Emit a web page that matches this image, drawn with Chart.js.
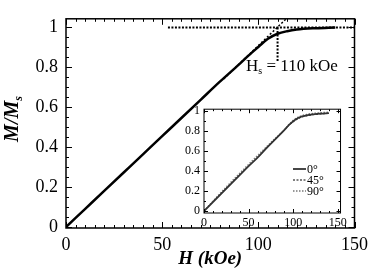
<!DOCTYPE html>
<html>
<head>
<meta charset="utf-8">
<script src="https://cdn.jsdelivr.net/npm/chart.js@4"></script>
<style>
  body { margin: 0; background: #fff; }
  #wrap { position: relative; width: 374px; height: 276px; }
  #mainChart { position: absolute; left: 0; top: 0; }
  #insetChart { position: absolute; left: 175px; top: 98px; }
</style>
</head>
<body>
<div id="wrap">
  <canvas id="mainChart" width="374" height="276"></canvas>
  <canvas id="insetChart" width="175" height="135"></canvas>
</div>
<script>
// main panel data (H in kOe, M/Ms)
const fieldH = [0, 10, 20, 30, 40, 50, 60, 70, 80, 90, 95, 100, 105, 110, 115, 120, 130, 140];
const magM   = [0, 0.091, 0.182, 0.273, 0.364, 0.455, 0.546, 0.637, 0.728, 0.815, 0.86, 0.902, 0.943, 0.968, 0.981, 0.989, 0.996, 1.0];

// linear extrapolation and saturation guide lines
const extrapH = [82, 114.5];
const extrapM = [0.742, 1.043];
const satH = [53, 150];
const satM = [1, 1];
const hsH = [110, 110];
const hsM = [1.0, 0.825];

const xTicks = [0, 50, 100, 150];
const yTicks = [0, 0.2, 0.4, 0.6, 0.8, 1];

// inset data: three field angles
const insetAngles = ["0°", "45°", "90°"];
const insetH = [0, 10, 20, 30, 40, 50, 60, 70, 80, 90, 95, 100, 105, 110, 115, 120, 130, 140];
const insetM0  = [0, 0.09, 0.18, 0.27, 0.36, 0.45, 0.535, 0.63, 0.72, 0.81, 0.86, 0.9, 0.93, 0.948, 0.958, 0.966, 0.975, 0.98];
const insetM45 = [0, 0.092, 0.185, 0.275, 0.362, 0.448, 0.535, 0.625, 0.72, 0.81, 0.855, 0.893, 0.922, 0.942, 0.953, 0.962, 0.972, 0.978];
const insetM90 = [0, 0.1, 0.195, 0.288, 0.378, 0.468, 0.556, 0.643, 0.73, 0.815, 0.865, 0.908, 0.938, 0.957, 0.968, 0.976, 0.985, 0.99];

const serif = "'Liberation Serif', 'DejaVu Serif', serif";

function pts(xs, ys) {
  return xs.map((x, i) => ({ x: x, y: ys[i] }));
}

// frame + inward ticks on all four sides
function frameTicks(xMinor, yMinor, major, minor, lw) {
  return {
    id: "frameTicks",
    afterDraw(chart) {
      const ctx = chart.ctx;
      const a = chart.chartArea;
      const xs = chart.scales.x, ys = chart.scales.y;
      ctx.save();
      ctx.strokeStyle = "#000";
      ctx.lineWidth = lw;
      ctx.strokeRect(a.left, a.top, a.right - a.left, a.bottom - a.top);
      ctx.lineWidth = 1;
      ctx.beginPath();
      for (let v = 0; v <= xs.max + 1e-9; v += xMinor) {
        const px = Math.round(xs.getPixelForValue(v)) + 0.5;
        const isMaj = xTicks.some(t => Math.abs(t - v) < 1e-6);
        const len = isMaj ? major : minor;
        ctx.moveTo(px, a.bottom); ctx.lineTo(px, a.bottom - len);
        ctx.moveTo(px, a.top); ctx.lineTo(px, a.top + len);
      }
      for (let v = 0; v <= ys.max + 1e-9; v += yMinor) {
        const py = Math.round(ys.getPixelForValue(v)) + 0.5;
        const isMaj = yTicks.some(t => Math.abs(t - v) < 1e-6);
        const len = isMaj ? major : minor;
        ctx.moveTo(a.left, py); ctx.lineTo(a.left + len, py);
        ctx.moveTo(a.right, py); ctx.lineTo(a.right - len, py);
      }
      ctx.stroke();
      ctx.restore();
    }
  };
}

// y-axis title and Hs label for the main panel
const mainText = {
  id: "mainText",
  afterDraw(chart) {
    const ctx = chart.ctx;
    ctx.save();
    ctx.fillStyle = "#000";
    ctx.translate(13, 119);
    ctx.rotate(-Math.PI / 2);
    ctx.textBaseline = "middle";
    ctx.font = "italic bold 20px " + serif;
    const w1 = ctx.measureText("M/M").width;
    ctx.font = "italic bold 12px " + serif;
    const w2 = ctx.measureText("s").width;
    let x0 = -(w1 + w2) / 2;
    ctx.font = "italic bold 20px " + serif;
    ctx.textAlign = "left";
    ctx.fillText("M/M", x0, 0);
    ctx.font = "italic bold 12px " + serif;
    ctx.fillText("s", x0 + w1, 6);
    ctx.restore();

    ctx.save();
    ctx.fillStyle = "#000";
    ctx.textBaseline = "alphabetic";
    ctx.textAlign = "left";
    ctx.font = "17px " + serif;
    ctx.fillText("H", 246, 71);
    const hw = ctx.measureText("H").width;
    ctx.font = "10px " + serif;
    ctx.fillText("s", 246 + hw, 74);
    const sw = ctx.measureText("s").width;
    ctx.font = "17px " + serif;
    ctx.fillText(" = 110 kOe", 246 + hw + sw, 71);
    ctx.restore();
  }
};

const mainChart = new Chart(document.getElementById("mainChart").getContext("2d"), {
  type: "line",
  data: {
    datasets: [
      {
        data: pts(fieldH, magM),
        borderColor: "#000",
        borderWidth: 2.5,
        pointRadius: 0,
        cubicInterpolationMode: "monotone",
      },
      {
        data: pts(extrapH, extrapM),
        borderColor: "#000",
        borderWidth: 1.5,
        borderDash: [2, 2],
        pointRadius: 0,
      },
      {
        data: pts(satH, satM),
        borderColor: "#000",
        borderWidth: 2,
        borderDash: [2, 1.5],
        pointRadius: 0,
      },
      {
        data: pts(hsH, hsM),
        borderColor: "#000",
        borderWidth: 2,
        borderDash: [2, 1.5],
        pointRadius: 0,
      },
    ],
  },
  options: {
    responsive: false,
    animation: false,
    events: [],
    layout: { padding: { top: 7, right: 15, left: 0, bottom: 0 } },
    plugins: { legend: { display: false }, tooltip: { enabled: false } },
    scales: {
      x: {
        type: "linear",
        min: 0,
        max: 150,
        afterBuildTicks: s => { s.ticks = xTicks.map(v => ({ value: v })); },
        afterFit: s => { s.height = 48; },
        grid: { display: false, drawTicks: false },
        border: { display: false },
        ticks: {
          color: "#000",
          padding: 6,
          font: { family: serif, size: 18 },
          callback: v => String(v),
        },
        title: {
          display: true,
          text: "H (kOe)",
          color: "#000",
          padding: { top: 0, bottom: 6 },
          font: { family: serif, size: 19, style: "italic", weight: "bold" },
        },
      },
      y: {
        type: "linear",
        min: -0.005,
        max: 1.043,
        afterBuildTicks: s => { s.ticks = yTicks.map(v => ({ value: v })); },
        afterFit: s => { s.width = 66; },
        grid: { display: false, drawTicks: false },
        border: { display: false },
        ticks: {
          color: "#000",
          padding: 8,
          font: { family: serif, size: 18 },
          callback: v => String(Math.round(v * 10) / 10),
        },
      },
    },
  },
  plugins: [frameTicks(5, 0.05, 6, 3, 1.5), mainText],
});

// inset legend drawn from dataset styles
const insetLegend = {
  id: "insetLegend",
  afterDraw(chart) {
    const ctx = chart.ctx;
    ctx.save();
    ctx.font = "12px " + serif;
    ctx.textBaseline = "middle";
    ctx.fillStyle = "#000";
    chart.data.datasets.forEach((ds, i) => {
      const y = 71 + i * 11;
      ctx.strokeStyle = ds.borderColor;
      ctx.lineWidth = ds.borderWidth;
      ctx.setLineDash(ds.borderDash || []);
      ctx.beginPath();
      ctx.moveTo(118, y);
      ctx.lineTo(131, y);
      ctx.stroke();
      ctx.setLineDash([]);
      ctx.fillText(ds.label, 132, y + 1);
    });
    ctx.restore();
  }
};

const whiteArea = {
  id: "whiteArea",
  beforeDraw(chart) {
    const a = chart.chartArea;
    chart.ctx.save();
    chart.ctx.fillStyle = "#fff";
    chart.ctx.fillRect(a.left, a.top, a.right - a.left, a.bottom - a.top);
    chart.ctx.restore();
  }
};

const insetChart = new Chart(document.getElementById("insetChart").getContext("2d"), {
  type: "line",
  data: {
    datasets: [
      {
        label: insetAngles[0],
        data: pts(insetH, insetM0),
        borderColor: "#333",
        borderWidth: 1.8,
        pointRadius: 0,
        cubicInterpolationMode: "monotone",
      },
      {
        label: insetAngles[1],
        data: pts(insetH, insetM45),
        borderColor: "#000",
        borderWidth: 1,
        borderDash: [2, 1.5],
        pointRadius: 0,
        cubicInterpolationMode: "monotone",
      },
      {
        label: insetAngles[2],
        data: pts(insetH, insetM90),
        borderColor: "#777",
        borderWidth: 1.3,
        borderDash: [1.5, 1.5],
        pointRadius: 0,
        cubicInterpolationMode: "monotone",
      },
    ],
  },
  options: {
    responsive: false,
    animation: false,
    events: [],
    layout: { padding: { top: 10, right: 8, left: 0, bottom: 0 } },
    plugins: { legend: { display: false }, tooltip: { enabled: false } },
    scales: {
      x: {
        type: "linear",
        min: 0,
        max: 153,
        afterBuildTicks: s => { s.ticks = xTicks.map(v => ({ value: v })); },
        afterFit: s => { s.height = 20; },
        grid: { display: false, drawTicks: false },
        border: { display: false },
        ticks: {
          color: "#000",
          padding: 3,
          font: { family: serif, size: 12 },
          callback: v => String(v),
        },
      },
      y: {
        type: "linear",
        min: -0.02,
        max: 1.02,
        afterBuildTicks: s => { s.ticks = yTicks.map(v => ({ value: v })); },
        afterFit: s => { s.width = 29; },
        grid: { display: false, drawTicks: false },
        border: { display: false },
        ticks: {
          color: "#000",
          padding: 4,
          font: { family: serif, size: 12 },
          callback: v => String(Math.round(v * 10) / 10),
        },
      },
    },
  },
  plugins: [whiteArea, frameTicks(10, 0.1, 4, 2, 1), insetLegend],
});
</script>
</body>
</html>
